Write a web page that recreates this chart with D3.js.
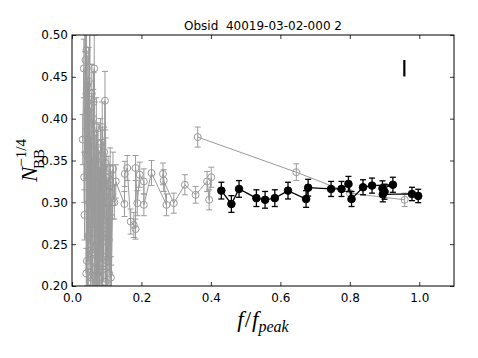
<!DOCTYPE html>
<html>
<head>
<meta charset="utf-8">
<script src="https://cdn.jsdelivr.net/npm/d3@7"></script>
<style>
  body { margin: 0; background: #fff; }
  text { font-family: "DejaVu Sans", sans-serif; }
  .math { font-family: "Liberation Serif", "DejaVu Serif", serif; }
</style>
</head>
<body>
<div id="chart"></div>
<script>
// Chart size and plot box
const CHART_WIDTH = 478;
const CHART_HEIGHT = 358;
const MARGIN = { left: 72, top: 35, right: 24, bottom: 72 };

const TITLE = "Obsid\u00a0\u00a040019-03-02-000 2";
const X_TICKS = [0.0, 0.2, 0.4, 0.6, 0.8, 1.0];
const Y_TICKS = [0.20, 0.25, 0.30, 0.35, 0.40, 0.45, 0.50];

// Black series: f/f_peak, N^-1/4, error
const blackX = [0.430, 0.459, 0.481, 0.531, 0.556, 0.584, 0.622, 0.674, 0.680, 0.746, 0.776, 0.796, 0.805, 0.838, 0.864, 0.924, 0.894, 0.900, 0.895, 0.979, 0.997];
const blackY = [0.314, 0.298, 0.316, 0.305, 0.303, 0.305, 0.314, 0.304, 0.3175, 0.316, 0.316, 0.322, 0.304, 0.318, 0.320, 0.321, 0.3167, 0.3127, 0.3096, 0.310, 0.3076];
const blackErr = [0.010, 0.010, 0.010, 0.010, 0.010, 0.010, 0.010, 0.010, 0.010, 0.009, 0.009, 0.009, 0.009, 0.009, 0.009, 0.009, 0.009, 0.009, 0.009, 0.008, 0.008];

// Grey tail series
const tailX = [0.362, 0.646, 0.800, 0.958];
const tailY = [0.378, 0.336, 0.311, 0.303];
const tailErr = [0.012, 0.010, 0.009, 0.008];

// Grey cluster series (low frequency ratios)
const clusterX = [0.031, 0.034, 0.036, 0.038, 0.040, 0.042, 0.043, 0.045, 0.046, 0.048,
  0.049, 0.051, 0.052, 0.054, 0.055, 0.057, 0.058, 0.060, 0.061, 0.063,
  0.064, 0.066, 0.067, 0.069, 0.070, 0.072, 0.073, 0.075, 0.077, 0.078,
  0.080, 0.082, 0.083, 0.085, 0.087, 0.088, 0.090, 0.092, 0.094, 0.095,
  0.097, 0.099, 0.101, 0.104, 0.106, 0.109, 0.112, 0.115, 0.118, 0.122,
  0.035, 0.039, 0.041, 0.044, 0.047, 0.050, 0.053, 0.056, 0.059, 0.062,
  0.065, 0.068, 0.071, 0.074, 0.076, 0.079, 0.081, 0.084, 0.086, 0.089,
  0.091, 0.093, 0.096, 0.098, 0.100, 0.103, 0.107, 0.110, 0.113, 0.117,
  0.126, 0.151, 0.152, 0.159, 0.169, 0.178, 0.183, 0.183, 0.188, 0.195,
  0.207, 0.207, 0.229, 0.272, 0.262, 0.264, 0.293, 0.325, 0.356, 0.389,
  0.395, 0.401];
const clusterY = [0.375, 0.460, 0.285, 0.520, 0.358, 0.482, 0.230, 0.410, 0.190, 0.445,
  0.300, 0.505, 0.250, 0.380, 0.210, 0.430, 0.320, 0.195, 0.400, 0.270,
  0.460, 0.230, 0.350, 0.185, 0.390, 0.290, 0.215, 0.365, 0.245, 0.330,
  0.200, 0.370, 0.260, 0.310, 0.390, 0.220, 0.340, 0.280, 0.320, 0.4215,
  0.347, 0.300, 0.230, 0.330, 0.255, 0.320, 0.210, 0.310, 0.340, 0.300,
  0.330, 0.470, 0.215, 0.440, 0.260, 0.395, 0.205, 0.340, 0.240, 0.420,
  0.220, 0.300, 0.195, 0.355, 0.210, 0.310, 0.250, 0.345, 0.190, 0.300,
  0.235, 0.360, 0.205, 0.330, 0.190, 0.285, 0.215, 0.340, 0.195, 0.300,
  0.325, 0.298, 0.334, 0.341, 0.277, 0.273, 0.268, 0.341, 0.299, 0.333,
  0.325, 0.297, 0.335, 0.297, 0.334, 0.326, 0.299, 0.321, 0.309, 0.325,
  0.303, 0.330];
const clusterErr = [0.030, 0.035, 0.030, 0.040, 0.030, 0.035, 0.030, 0.035, 0.030, 0.040,
  0.030, 0.040, 0.030, 0.030, 0.030, 0.035, 0.030, 0.030, 0.035, 0.030,
  0.040, 0.030, 0.030, 0.030, 0.035, 0.030, 0.030, 0.030, 0.030, 0.030,
  0.030, 0.030, 0.030, 0.030, 0.030, 0.030, 0.030, 0.025, 0.025, 0.035,
  0.030, 0.025, 0.030, 0.025, 0.030, 0.025, 0.025, 0.025, 0.020, 0.020,
  0.030, 0.040, 0.030, 0.035, 0.030, 0.035, 0.030, 0.030, 0.030, 0.035,
  0.030, 0.030, 0.030, 0.030, 0.030, 0.030, 0.030, 0.030, 0.030, 0.030,
  0.030, 0.030, 0.030, 0.025, 0.030, 0.025, 0.030, 0.025, 0.030, 0.020,
  0.020, 0.015, 0.015, 0.015, 0.015, 0.015, 0.012, 0.015, 0.015, 0.015,
  0.015, 0.013, 0.015, 0.013, 0.013, 0.013, 0.012, 0.012, 0.010, 0.012,
  0.012, 0.012];

// Typical error marker (upper right)
const markX = [0.957];
const markY = [0.4603];
const markErr = [0.0098];

const GREY = "#9a9a9a";

setup();

function zip (xs, ys, es) {
    return xs.map((x, i) => ({ x: x, y: ys[i], e: es[i] }));
}

function setup () {
    const w = CHART_WIDTH - MARGIN.left - MARGIN.right;
    const h = CHART_HEIGHT - MARGIN.top - MARGIN.bottom;

    const svg = d3.select("#chart").append("svg")
        .attr("width", CHART_WIDTH).attr("height", CHART_HEIGHT);

    svg.append("defs").append("clipPath").attr("id", "clip")
        .append("rect").attr("width", w).attr("height", h);

    const g = svg.append("g").attr("transform", `translate(${MARGIN.left},${MARGIN.top})`);

    const x = d3.scaleLinear().domain([0, 1.1]).range([0, w]);
    const y = d3.scaleLinear().domain([0.2, 0.5]).range([h, 0]);

    const plot = g.append("g").attr("clip-path", "url(#clip)");

    drawSeries(plot, zip(clusterX, clusterY, clusterErr), x, y, GREY, false);
    drawSeries(plot, zip(tailX, tailY, tailErr), x, y, GREY, false);
    drawSeries(plot, zip(blackX, blackY, blackErr), x, y, "#000", true);

    // typical error bar
    const mark = zip(markX, markY, markErr);
    plot.selectAll(".mark").data(mark).enter().append("line")
        .attr("x1", d => x(d.x)).attr("x2", d => x(d.x))
        .attr("y1", d => y(d.y + d.e)).attr("y2", d => y(d.y - d.e))
        .attr("stroke", "#000").attr("stroke-width", 2.2);

    // axes, matplotlib style ticks pointing in
    const tickIn = 4;
    g.append("g").attr("transform", `translate(0,${h})`)
        .call(d3.axisBottom(x).tickValues(X_TICKS).tickFormat(d3.format(".1f")).tickSizeInner(-tickIn).tickSizeOuter(0).tickPadding(7))
        .call(styleAxis);
    g.append("g")
        .call(d3.axisTop(x).tickValues(X_TICKS).tickFormat("").tickSizeInner(-tickIn).tickSizeOuter(0))
        .call(styleAxis);
    g.append("g")
        .call(d3.axisLeft(y).tickValues(Y_TICKS).tickFormat(d3.format(".2f")).tickSizeInner(-tickIn).tickSizeOuter(0).tickPadding(4))
        .call(styleAxis);
    g.append("g").attr("transform", `translate(${w},0)`)
        .call(d3.axisRight(y).tickValues(Y_TICKS).tickFormat("").tickSizeInner(-tickIn).tickSizeOuter(0))
        .call(styleAxis);

    g.append("rect").attr("width", w).attr("height", h)
        .attr("fill", "none").attr("stroke", "#000").attr("stroke-width", 1);

    // title
    g.append("text").attr("x", w / 2).attr("y", -5)
        .attr("text-anchor", "middle").attr("font-size", 12).text(TITLE);

    // x label: f / f_peak
    const xl = g.append("text").attr("class", "math").attr("x", w / 2).attr("y", h + 41)
        .attr("text-anchor", "middle").attr("font-size", 23).attr("font-style", "italic");
    xl.append("tspan").text("f");
    xl.append("tspan").attr("font-style", "normal").attr("dx", 1).text("/");
    xl.append("tspan").attr("dx", 1).text("f");
    xl.append("tspan").attr("font-size", 16).attr("dy", 5).text("peak");

    // y label: N_BB^{-1/4}
    const yl = svg.append("text").attr("class", "math")
        .attr("transform", `translate(37,${MARGIN.top + h / 2}) rotate(-90)`)
        .attr("text-anchor", "middle").attr("font-size", 23);
    yl.append("tspan").attr("font-style", "italic").text("N");
    yl.append("tspan").attr("font-size", 15).attr("dy", -11).attr("dx", 0).text("\u22121/4");
    yl.append("tspan").attr("font-size", 15).attr("dy", 18).attr("dx", -30).text("BB");
}

function styleAxis (sel) {
    sel.select(".domain").remove();
    sel.selectAll(".tick line").attr("stroke", "#000").attr("stroke-width", 0.8);
    sel.selectAll(".tick text").attr("fill", "#000").attr("font-size", 12)
        .attr("font-family", "DejaVu Sans, sans-serif");
}

function drawSeries (plot, data, x, y, color, filled) {
    const grp = plot.append("g");
    const lw = filled ? 1.3 : 1;

    grp.append("path").datum(data)
        .attr("fill", "none").attr("stroke", color).attr("stroke-width", lw)
        .attr("d", d3.line().x(d => x(d.x)).y(d => y(d.y)));

    const cap = 3;
    const bars = grp.selectAll(".err").data(data).enter().append("g");
    bars.append("line")
        .attr("x1", d => x(d.x)).attr("x2", d => x(d.x))
        .attr("y1", d => y(d.y - d.e)).attr("y2", d => y(d.y + d.e))
        .attr("stroke", color).attr("stroke-width", lw);
    bars.append("line")
        .attr("x1", d => x(d.x) - cap).attr("x2", d => x(d.x) + cap)
        .attr("y1", d => y(d.y - d.e)).attr("y2", d => y(d.y - d.e))
        .attr("stroke", color).attr("stroke-width", lw);
    bars.append("line")
        .attr("x1", d => x(d.x) - cap).attr("x2", d => x(d.x) + cap)
        .attr("y1", d => y(d.y + d.e)).attr("y2", d => y(d.y + d.e))
        .attr("stroke", color).attr("stroke-width", lw);

    grp.selectAll(".pt").data(data).enter().append("circle")
        .attr("cx", d => x(d.x)).attr("cy", d => y(d.y))
        .attr("r", filled ? 3.8 : 3.5)
        .attr("fill", filled ? color : "none")
        .attr("stroke", color).attr("stroke-width", 1);
}
</script>
</body>
</html>
